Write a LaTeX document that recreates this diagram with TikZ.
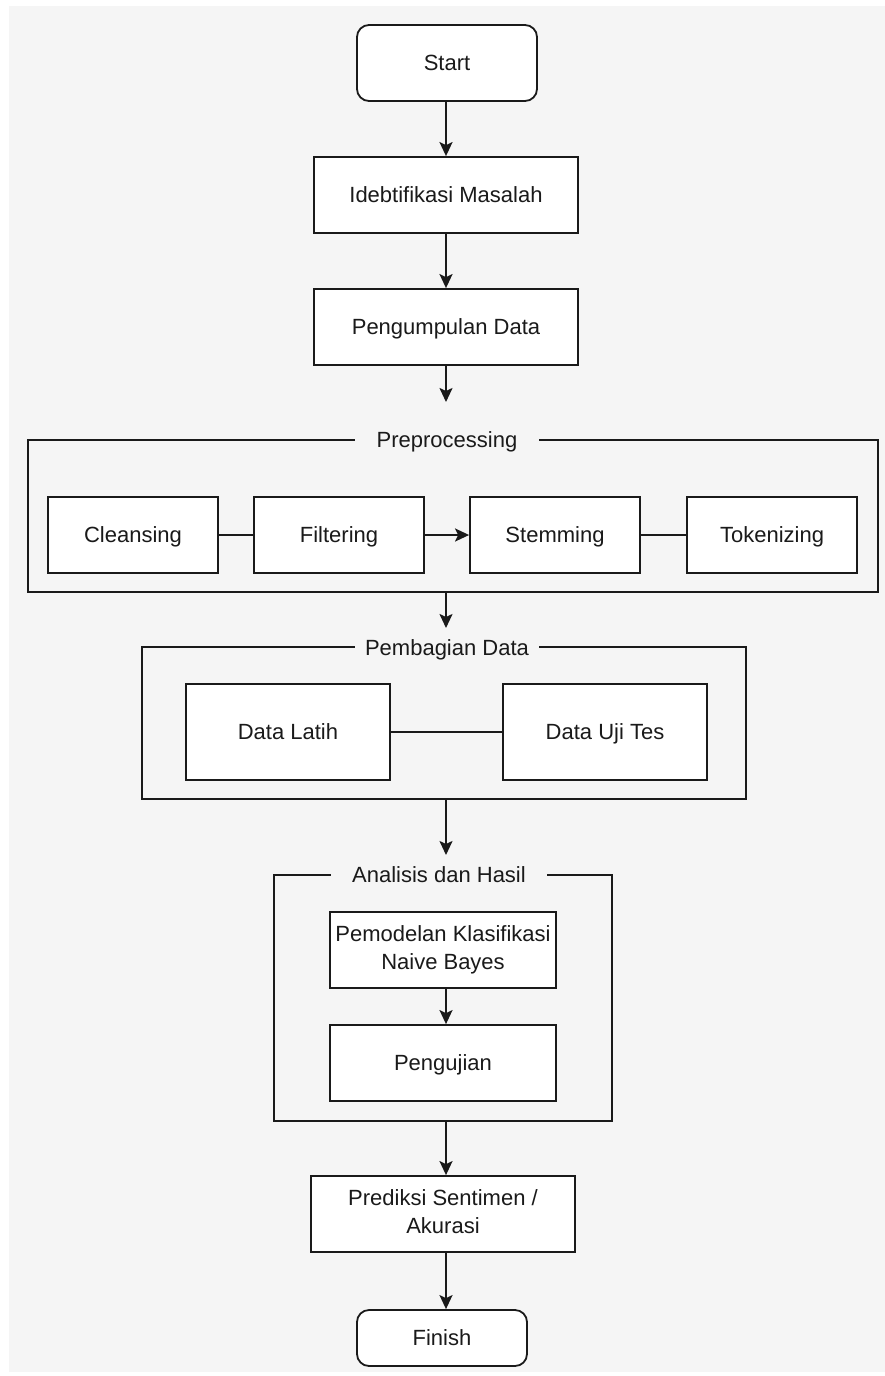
\documentclass[tikz,border=0pt]{standalone}
\usepackage{fontspec}
\setmainfont{Liberation Sans}
\usetikzlibrary{arrows.meta}
\definecolor{bgc}{HTML}{F5F5F5}
\definecolor{ink}{HTML}{1A1A1A}
\newcommand\mystrut{\rule[-4.2pt]{0pt}{24.2pt}}
\begin{document}
\begin{tikzpicture}[x=1pt,y=-1pt,
  every node/.style={font=\fontsize{22}{28}\selectfont, text=ink},
  box/.style={draw=ink, line width=1.8pt, fill=white, inner sep=0pt, align=center,
    execute at begin node=\mystrut, execute at end node=\mystrut},
  term/.style={box, rounded corners=12pt},
  frame/.style={draw=ink, line width=1.8pt, inner sep=0pt},
  ftitle/.style={fill=bgc, inner ysep=0pt},
  arr/.style={draw=ink, line width=2pt, -{Stealth[length=14pt,width=13pt,inset=3pt]}},
  link/.style={draw=ink, line width=1.8pt}
]
\useasboundingbox (0,0) rectangle (885,1376);
\fill[bgc] (9,6) rectangle (885,1372);

% main column
\node[term, minimum width=180, minimum height=76] (start) at (447,63) {Start};
\node[box, minimum width=264, minimum height=76] (ident) at (446,195) {Idebtifikasi Masalah};
\node[box, minimum width=264, minimum height=76] (collect) at (446,327) {Pengumpulan Data};
\coordinate (c1) at (446,402);

% Preprocessing frame
\node[frame, minimum width=850, minimum height=152] (pre) at (453,516) {};
\node[ftitle, inner xsep=22pt] (pretitle) at (447,440) {\mystrut Preprocessing};
\node[box, minimum width=170, minimum height=76] (clean) at (133,535) {Cleansing};
\node[box, minimum width=170, minimum height=76] (filt) at (339,535) {Filtering};
\node[box, minimum width=170, minimum height=76] (stem) at (555,535) {Stemming};
\node[box, minimum width=170, minimum height=76] (tok) at (772,535) {Tokenizing};
\coordinate (c2) at (446,628);

% Pembagian Data frame
\node[frame, minimum width=604, minimum height=152] (bagi) at (444,723) {};
\node[ftitle, inner xsep=10pt] (bagititle) at (447,648) {\mystrut Pembagian Data};
\node[box, minimum width=204, minimum height=96] (latih) at (288,732) {Data Latih};
\node[box, minimum width=204, minimum height=96] (uji) at (605,732) {Data Uji Tes};
\coordinate (c3) at (446,855);

% Analisis dan Hasil frame
\node[frame, minimum width=338, minimum height=246] (anal) at (443,998) {};
\node[ftitle, inner xsep=21pt] (analtitle) at (439,875) {\mystrut Analisis dan Hasil};
\node[box, minimum width=226, minimum height=76] (model) at (443,950) {Pemodelan Klasifikasi\\Naive Bayes};
\node[box, minimum width=226, minimum height=76] (test) at (443,1063) {Pengujian};

% bottom
\node[box, minimum width=264, minimum height=76] (pred) at (443,1214) {Prediksi Sentimen /\\Akurasi};
\node[term, minimum width=170, minimum height=56] (fin) at (442,1338) {Finish};

% connectors
\draw[arr] (start.south -| c1) -- (ident.north -| c1);
\draw[arr] (ident.south -| c1) -- (collect.north -| c1);
\draw[arr] (collect.south -| c1) -- (c1);
\draw[link] (clean.east) -- (filt.west);
\draw[arr] (filt.east) -- (stem.west);
\draw[link] (stem.east) -- (tok.west);
\draw[arr] (pre.south -| c2) -- (c2);
\draw[link] (latih.east) -- (uji.west);
\draw[arr] (bagi.south -| c3) -- (c3);
\draw[arr] (model.south -| c3) -- (test.north -| c3);
\draw[arr] (anal.south -| c3) -- (pred.north -| c3);
\draw[arr] (pred.south -| c3) -- (fin.north -| c3);
\end{tikzpicture}
\end{document}
